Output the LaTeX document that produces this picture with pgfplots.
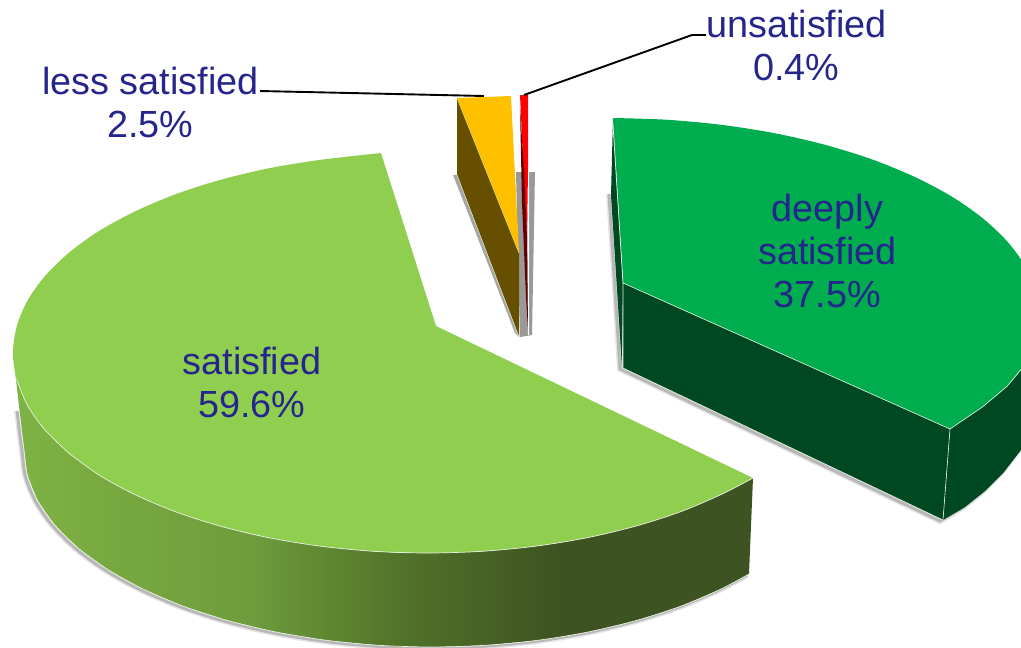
\documentclass[border=0pt]{standalone}
\usepackage{pgfplots}
\usepackage{pgfplotstable}
\usepackage{fontspec}
\setmainfont{Liberation Sans}
\pgfplotsset{compat=1.18}

\definecolor{lbl}{HTML}{25258C}
\definecolor{topG}{HTML}{90CE50}
\definecolor{topD}{HTML}{00AD4E}
\definecolor{sideD}{HTML}{004821}
\definecolor{sideA}{HTML}{7FB243}
\definecolor{sideB}{HTML}{6E9C3C}
\definecolor{sideC}{HTML}{517329}
\definecolor{sideE}{HTML}{3D5321}
\definecolor{org}{HTML}{FFC000}
\definecolor{brn}{HTML}{665000}
\definecolor{rim}{HTML}{E8EFE0}

% lower outline of the big slice
\pgfplotstableread{
x y
19 410
24 450
27.5 475.7
37.9 501
55.1 525.4
78.7 548.5
108.3 569.9
143.5 589.3
183.6 606.3
228 620.6
275.9 632
326.4 640.3
378.8 645.3
432 647
485.2 645.3
537.6 640.3
588.1 632
636 620.6
680.4 606.3
720.5 589.3
749 574
}\lowG
% rim of the big slice, left part
\pgfplotstableread{
x y
381 153
320.6 159.8
269.2 168.2
220.5 179.8
175.4 194.3
134.6 211.6
98.7 231.2
68.6 253
44.6 276.5
27.1 301.2
16.6 326.9
13 353
16.6 379.1
27.1 404.8
44.6 429.5
68.6 453
}\rimGa
% rim of the big slice, lower part
\pgfplotstableread{
x y
68.6 453
98.7 474.8
134.6 494.4
175.4 511.7
220.5 526.2
269.2 537.8
320.6 546.2
373.8 551.3
428 553
482.2 551.3
535.4 546.2
586.8 537.8
635.5 526.2
680.7 511.7
721.4 494.4
753 478
}\rimGb
% arc of the dark green slice
\pgfplotstableread{
x y
613 118
666.1 119.7
721.3 124.8
774.6 133.2
825 144.8
871.8 159.3
914 176.6
951.2 196.2
982.4 218
1007.3 241.5
1025.3 266.2
1036.3 291.9
1040 318
1036.3 341.2
1025.3 364.1
1007.3 386.1
982.4 407
950 429
}\rimD
% lower outline of the dark green slice
\pgfplotstableread{
x y
612 193
623 368
943 520
965 507
985 491
1004 472
1021 450
1033 425
}\lowD

\begin{document}
\begin{tikzpicture}
\begin{axis}[
    scale only axis,
    width=1021pt,
    height=648pt,
    xmin=0, xmax=1021,
    ymin=0, ymax=648,
    y dir=reverse,
    hide axis,
    every axis plot/.append style={mark=none},
]
\path (axis cs:0,0) rectangle (axis cs:1021,648);
% shadows
\addplot[draw=black, opacity=.1, line width=6pt, xshift=-2pt, yshift=-1pt, smooth] table[x=x,y=y] {\lowG};
\addplot[draw=black, opacity=.2, line width=3pt, xshift=-2pt, yshift=-1pt, smooth] table[x=x,y=y] {\lowG};
\addplot[draw=black, opacity=.1, line width=6pt, xshift=-3pt, yshift=-1pt] table[x=x,y=y] {\lowD};
\addplot[draw=black, opacity=.2, line width=3pt, xshift=-3pt, yshift=-1pt] table[x=x,y=y] {\lowD};
\addplot[fill=black, draw=none, opacity=.35] coordinates {(453,175) (457,175) (519,337) (515,333)} -- cycle;
\addplot[fill=black!40, draw=none] coordinates {(516,172) (535,172) (532,335) (520,337)} -- cycle;
\addplot[fill=white, draw=none] coordinates {(527,172) (529,172) (529,335) (528,335)} -- cycle;

% satisfied, side
\addplot[draw=none, left color=sideA, right color=sideB] coordinates {
 (13,353) (16.6,379) (27.1,404.8) (44.6,429.5) (68.6,453) (98.7,474.8) (134.6,494.4) (175.4,511.7) (220.5,526.2) (251,534)
 (251,626) (228,620.6) (183.6,606.3) (143.5,589.3) (108.3,569.9) (78.7,548.5) (55.1,525.4) (37.9,501) (27.5,475.7) (24,450)} -- cycle;
\addplot[draw=none, left color=sideB, right color=sideC] coordinates {
 (250,534) (269.2,537.8) (320.6,546.2) (373.8,551.3) (401,553) (401,647) (378.8,645.3) (326.4,640.3) (275.9,632) (250,626)} -- cycle;
\addplot[draw=none, left color=sideC, right color=sideE] coordinates {
 (400,553) (428,553) (482.2,551.3) (535.4,546.2) (561,542.5) (561,637) (537.6,640.3) (485.2,645.3) (432,647) (400,646.5)} -- cycle;
\addplot[draw=none, fill=sideE] coordinates {
 (560,542.5) (586.8,537.8) (635.5,526.2) (680.7,511.7) (721.4,494.4) (753,478) (749,574) (720.5,589.3) (680.4,606.3) (636,620.6) (588.1,632) (560,637)} -- cycle;
\addplot[draw=rim, line width=.7pt, smooth] table[x=x,y=y] {\lowG};

% satisfied, top
\addplot[fill=topG, draw=none, smooth] table[x=x,y=y] {\rimGa} -- cycle;
\addplot[fill=topG, draw=none, smooth] table[x=x,y=y] {\rimGb} -- cycle;
\addplot[fill=topG, draw=none] coordinates {(381,153) (436,326) (753,478) (428,520) (68.6,453) (150,300)} -- cycle;
\addplot[draw=rim, line width=.7pt, smooth] table[x=x,y=y] {\rimGb};
\addplot[draw=rim, line width=.7pt, smooth] coordinates {(16.6,379.1) (27.1,404.8) (44.6,429.5) (68.6,453)};

% deeply satisfied
\addplot[fill=sideD, draw=none] coordinates {(613,118) (611,195) (622,368) (623,283)} -- cycle;
\addplot[fill=sideD, draw=none] coordinates {(623,283) (950,429) (943,520) (623,368)} -- cycle;
\addplot[fill=sideD, draw=none] coordinates {
 (950,429) (982.4,407) (1007.3,386.1) (1025.3,364.1) (1036.3,341.2) (1040,318) (1040,400) (1033,425) (1021,450) (1004,472) (985,491) (965,507) (943,520)} -- cycle;
\addplot[draw=rim, line width=.6pt] coordinates {(623,283) (623,368) (943,520) (950,429)};
\addplot[fill=topD, draw=none, smooth] table[x=x,y=y] {\rimD} -- cycle;
\addplot[fill=topD, draw=none] coordinates {(613,118) (623,283) (950,429) (800,250)} -- cycle;
\addplot[draw=rim, line width=.6pt] coordinates {(623,283) (950,429)};
\addplot[draw=rim, line width=.6pt] coordinates {(950,429) (982.4,407) (1007.3,386.1) (1025.3,364.1)};
\addplot[draw=white, line width=.7pt] coordinates {(613,125) (623,283)};

% less satisfied
\addplot[fill=brn, draw=none] coordinates {(457,98) (519,253) (519,337) (457,175)} -- cycle;
\addplot[draw=rim, line width=.5pt] coordinates {(457,175) (519,337)};
\addplot[draw=rim, line width=.5pt] coordinates {(457,98) (519,253)};
\addplot[fill=org, draw=none] coordinates {(457,98) (511,96) (519,253)} -- cycle;

% unsatisfied
\addplot[fill=red, draw=none] coordinates {(520,95) (528,95) (528,170) (527,237) (523,160)} -- cycle;
\addplot[fill=black!60!red, draw=none] coordinates {(520,107) (524,170) (527,237) (528,330) (526,297) (522,203)} -- cycle;

% leader lines
\addplot[draw=black, line width=1.9pt] coordinates {(260,91) (484,96)};
\addplot[draw=black, line width=1.9pt] coordinates {(524,95) (692,35) (706,35)};

% labels
\node[font=\fontsize{37.8}{43}\selectfont, text=lbl, align=center] at (axis cs:796.5,45) {unsatisfied\\0.4\%};
\node[font=\fontsize{37.8}{43}\selectfont, text=lbl, align=center] at (axis cs:150.5,102) {less satisfied\\2.5\%};
\node[font=\fontsize{37.8}{43}\selectfont, text=lbl, align=center] at (axis cs:252,382) {satisfied\\59.6\%};
\node[font=\fontsize{37.8}{43}\selectfont, text=lbl, align=center] at (axis cs:827.5,251) {deeply\\satisfied\\37.5\%};
\end{axis}
\end{tikzpicture}
\end{document}
